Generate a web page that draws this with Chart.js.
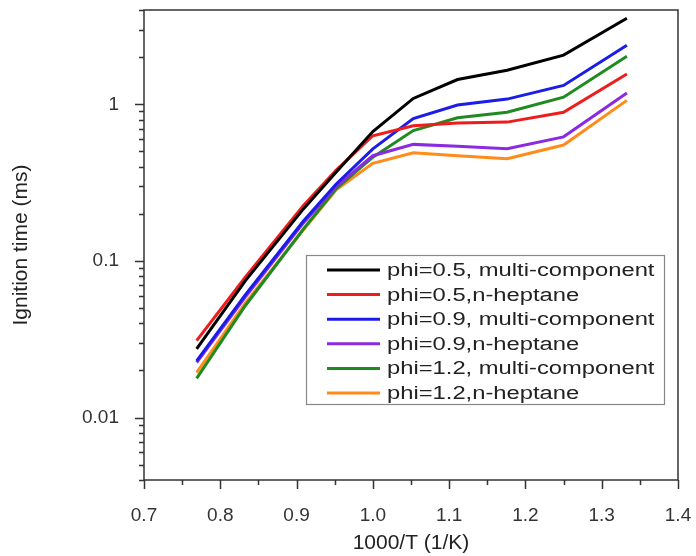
<!DOCTYPE html>
<html>
<head>
<meta charset="utf-8">
<script src="https://cdn.jsdelivr.net/npm/chart.js@4.4.1/dist/chart.umd.min.js"></script>
<style>
  html, body { margin: 0; padding: 0; background: #fff; }
  #wrap { width: 696px; height: 556px; position: relative; }
</style>
</head>
<body>
<div id="wrap"><canvas id="myChart"></canvas></div>
<script>
// 1000/T values (T = 1300 ... 750 K)
const xValues = [0.769, 0.833, 0.909, 0.952, 1.0, 1.053, 1.111, 1.176, 1.25, 1.333];

// ignition times (ms)
const phi05Multi  = [0.0275, 0.075, 0.215, 0.37, 0.67, 1.09, 1.44, 1.65, 2.06, 3.54];
const phi05Hept   = [0.031, 0.079, 0.226, 0.38, 0.63, 0.73, 0.76, 0.77, 0.89, 1.56];
const phi09Multi  = [0.023, 0.061, 0.180, 0.31, 0.52, 0.81, 0.99, 1.08, 1.32, 2.38];
const phi09Hept   = [0.0225, 0.059, 0.175, 0.30, 0.47, 0.555, 0.54, 0.52, 0.62, 1.18];
const phi12Multi  = [0.0178, 0.052, 0.160, 0.29, 0.46, 0.68, 0.82, 0.89, 1.11, 2.03];
const phi12Hept   = [0.0194, 0.054, 0.158, 0.285, 0.42, 0.49, 0.47, 0.45, 0.55, 1.06];

const seriesLabels = [
  'phi=0.5, multi-component',
  'phi=0.5,n-heptane',
  'phi=0.9, multi-component',
  'phi=0.9,n-heptane',
  'phi=1.2, multi-component',
  'phi=1.2,n-heptane'
];
const seriesValues = [phi05Multi, phi05Hept, phi09Multi, phi09Hept, phi12Multi, phi12Hept];
const seriesColors = ['#000000', '#ee1c1c', '#1c1ce8', '#8a2be2', '#1f8a1f', '#ff8c1a'];

const xTickValues = [0.7, 0.8, 0.9, 1.0, 1.1, 1.2, 1.3, 1.4];
const yTickValues = [0.01, 0.1, 1];
const yTickLabels = ['0.01', '0.1', '1'];

const FONT = '"Liberation Sans", Arial, sans-serif';
const AXIS_COLOR = '#333';

// frame + outward ticks (major and minor)
const framePlugin = {
  id: 'frame',
  afterDraw(chart) {
    const ctx = chart.ctx;
    const { left, right, top, bottom } = chart.chartArea;
    const xs = chart.scales.x, ys = chart.scales.y;
    ctx.save();
    ctx.strokeStyle = AXIS_COLOR;
    ctx.lineWidth = 1.5;
    ctx.strokeRect(left, top, right - left, bottom - top);

    ctx.beginPath();
    for (let d = 0.001; d < 10; d *= 10) {
      for (let k = 1; k <= 9; k++) {
        const v = k * d;
        if (v < ys.min * 0.999 || v > ys.max * 1.001) continue;
        const y = Math.round(ys.getPixelForValue(v)) + 0.5;
        const len = k === 1 ? 9 : 5;
        ctx.moveTo(left, y);
        ctx.lineTo(left - len, y);
      }
    }
    for (let i = 0; i <= 14; i++) {
      const v = 0.7 + i * 0.05;
      const x = Math.round(xs.getPixelForValue(v)) + 0.5;
      const len = i % 2 === 0 ? 9 : 5;
      ctx.moveTo(x, bottom);
      ctx.lineTo(x, bottom + len);
    }
    ctx.stroke();
    ctx.restore();
  }
};

// boxed legend inside the plot area
const legendPlugin = {
  id: 'boxLegend',
  afterDatasetsDraw(chart) {
    const ctx = chart.ctx;
    const bx = 306, by = 255, bw = 358, bh = 149;
    const rowH = 24.6, firstRow = 270;
    ctx.save();
    ctx.fillStyle = '#fff';
    ctx.fillRect(bx, by, bw, bh);
    ctx.strokeStyle = '#888';
    ctx.lineWidth = 1.2;
    ctx.strokeRect(bx + 0.5, by + 0.5, bw, bh);
    chart.data.datasets.forEach((ds, i) => {
      const y = firstRow + i * rowH;
      ctx.strokeStyle = ds.borderColor;
      ctx.lineWidth = 3;
      ctx.beginPath();
      ctx.moveTo(327, y);
      ctx.lineTo(380, y);
      ctx.stroke();
      ctx.save();
      ctx.translate(387, y);
      ctx.scale(1.32, 1);
      ctx.fillStyle = '#222';
      ctx.font = '18px ' + FONT;
      ctx.textBaseline = 'middle';
      ctx.fillText(ds.label, 0, 1);
      ctx.restore();
    });
    ctx.restore();
  }
};

const datasets = seriesLabels.map((label, i) => ({
  label: label,
  data: xValues.map((x, j) => ({ x: x, y: seriesValues[i][j] })),
  borderColor: seriesColors[i],
  backgroundColor: seriesColors[i],
  borderWidth: 3,
  pointRadius: 0,
  tension: 0,
  fill: false
}));

const ctx = document.getElementById('myChart').getContext('2d');
new Chart(ctx, {
  type: 'line',
  data: { datasets: datasets },
  options: {
    responsive: true,
    maintainAspectRatio: false,
    animation: false,
    layout: { padding: { top: 10, right: 18, left: 0, bottom: 0 } },
    plugins: {
      legend: { display: false },
      tooltip: { enabled: false }
    },
    scales: {
      x: {
        type: 'linear',
        min: 0.7,
        max: 1.4,
        afterBuildTicks: (scale) => { scale.ticks = xTickValues.map(v => ({ value: v })); },
        afterFit: (scale) => {
          scale.height = 76;
          scale.paddingLeft = 0;
          scale.paddingRight = 0;
        },
        grid: { display: false },
        border: { display: false },
        ticks: {
          autoSkip: false,
          maxRotation: 0,
          padding: 16,
          color: AXIS_COLOR,
          font: { family: FONT, size: 19 },
          callback: (v) => Number(v).toFixed(1)
        },
        title: {
          display: true,
          text: '1000/T (1/K)',
          color: '#222',
          font: { family: FONT, size: 21 },
          padding: { top: 0, bottom: 0 }
        }
      },
      y: {
        type: 'logarithmic',
        min: 0.004,
        max: 4,
        afterBuildTicks: (scale) => { scale.ticks = yTickValues.map(v => ({ value: v })); },
        afterFit: (scale) => {
          scale.width = 144;
          scale.paddingTop = 0;
          scale.paddingBottom = 0;
        },
        grid: { display: false },
        border: { display: false },
        ticks: {
          autoSkip: false,
          padding: 17,
          color: AXIS_COLOR,
          font: { family: FONT, size: 19 },
          callback: (v) => {
            const idx = yTickValues.findIndex(t => Math.abs(t - v) < t * 1e-6);
            return idx >= 0 ? yTickLabels[idx] : '';
          }
        },
        title: {
          display: true,
          text: 'Ignition time (ms)',
          color: '#222',
          font: { family: FONT, size: 21 },
          padding: { top: 9, bottom: 0 }
        }
      }
    }
  },
  plugins: [framePlugin, legendPlugin]
});
</script>
</body>
</html>
